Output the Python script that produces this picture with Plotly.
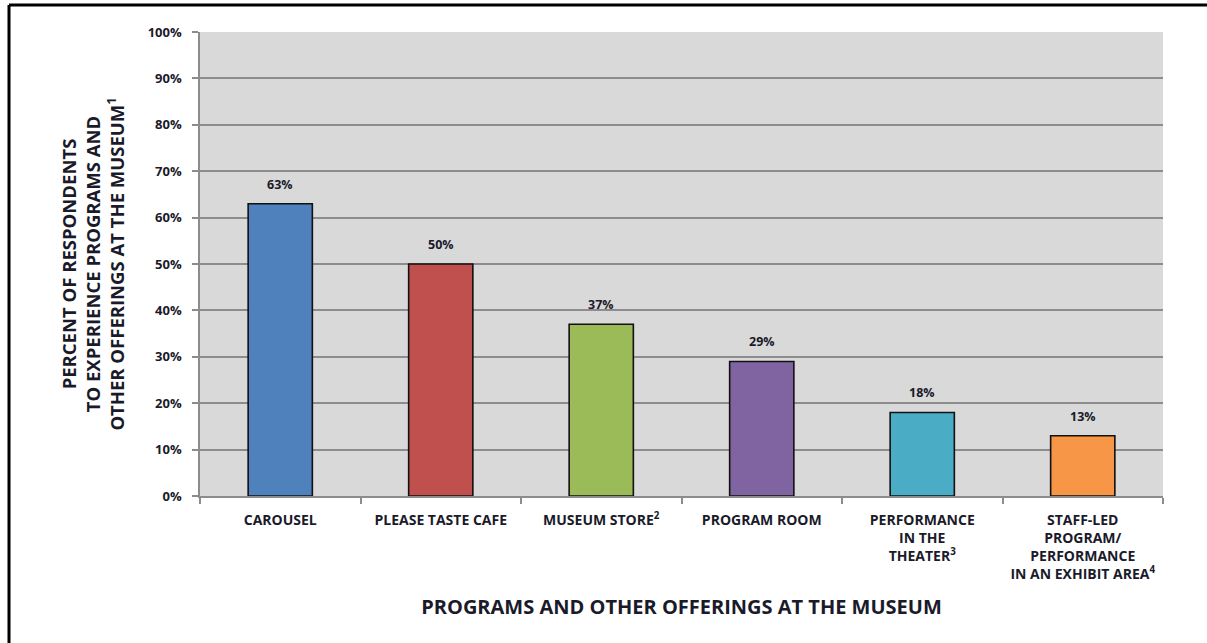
import plotly.graph_objects as go

# Survey results: share of respondents who experienced each offering
categories = [
    "CAROUSEL",
    "PLEASE TASTE CAFE",
    "MUSEUM STORE<sup>2</sup>",
    "PROGRAM ROOM",
    "PERFORMANCE<br>IN THE<br>THEATER<sup>3</sup>",
    "STAFF-LED<br>PROGRAM/<br>PERFORMANCE<br>IN AN EXHIBIT AREA<sup>4</sup>",
]
percents = [63, 50, 37, 29, 18, 13]
bar_colors = ["#4f81bd", "#c0504d", "#9bbb59", "#8064a2", "#4bacc6", "#f79646"]
y_ticks = list(range(0, 101, 10))
y_tick_labels = [f"{v}%" for v in y_ticks]

FONT = "'Open Sans', Lato, sans-serif"
TEXT = "#1a1a2a"
GRID = "#8c8c8c"

W, H = 1207, 643
ML, MR, MT, MB = 200, 44, 32, 147

fig = go.Figure(
    go.Bar(
        x=categories,
        y=percents,
        marker=dict(color=bar_colors, line=dict(color="#111111", width=1.6)),
        hoverinfo="x+y",
    )
)

# value labels above each bar
for cat, val in zip(categories, percents):
    fig.add_annotation(
        x=cat, y=val, text=f"<b>{val}%</b>", showarrow=False,
        yanchor="bottom", yshift=9,
        font=dict(family=FONT, size=12.5, color=TEXT),
    )

# frame lines along the top and left of the page
pw = W - ML - MR
ph = H - MT - MB
def px_x(p):
    return (p - ML) / pw
def px_y(p):
    return (H - MB - p) / ph

fig.add_shape(type="line", xref="paper", yref="paper",
              x0=px_x(9), x1=px_x(W + 2), y0=px_y(5), y1=px_y(5),
              line=dict(color="black", width=3))
fig.add_shape(type="line", xref="paper", yref="paper",
              x0=px_x(9), x1=px_x(9), y0=px_y(5), y1=px_y(H + 2),
              line=dict(color="black", width=3))

fig.update_layout(
    width=W, height=H,
    margin=dict(l=ML, r=MR, t=MT, b=MB),
    paper_bgcolor="white",
    plot_bgcolor="#d9d9d9",
    bargap=0.6,
    showlegend=False,
    font=dict(family=FONT, color=TEXT),
)

fig.update_xaxes(
    type="category",
    tickson="boundaries",
    ticks="outside", ticklen=6, tickcolor=GRID, tickwidth=1.5,
    showline=True, linecolor=GRID, linewidth=1.5,
    tickfont=dict(family=FONT, size=14, color=TEXT, weight="bold"),
    ticklabelstandoff=10,
    title=dict(
        text="<b>PROGRAMS AND OTHER OFFERINGS AT THE MUSEUM</b>",
        font=dict(family=FONT, size=20, color=TEXT),
        standoff=18,
    ),
)

fig.update_yaxes(
    range=[0, 100],
    tickvals=y_ticks, ticktext=y_tick_labels,
    ticks="outside", ticklen=6, tickcolor=GRID, tickwidth=1.5,
    showline=True, linecolor=GRID, linewidth=1.5,
    showgrid=True, gridcolor=GRID, gridwidth=1.5,
    zeroline=False,
    tickfont=dict(family=FONT, size=13, color=TEXT, weight="bold"),
    ticklabelstandoff=8,
    title=dict(
        text="<b>PERCENT OF RESPONDENTS<br>TO EXPERIENCE PROGRAMS AND<br>OTHER OFFERINGS AT THE MUSEUM<sup>1</sup></b>",
        font=dict(family=FONT, size=18.5, color=TEXT),
        standoff=18,
    ),
)

fig.write_html("out.html")
